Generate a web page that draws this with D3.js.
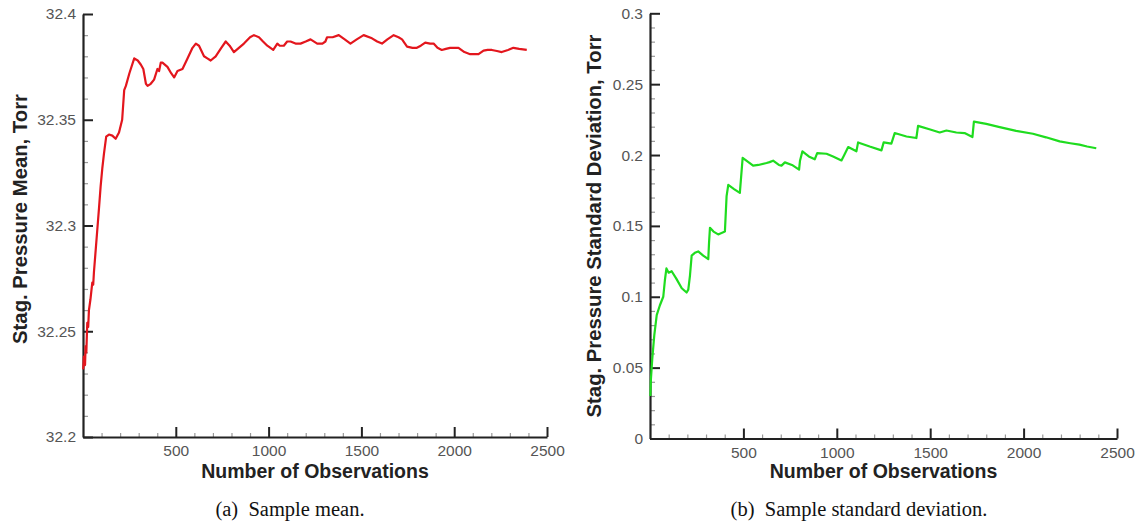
<!DOCTYPE html>
<html>
<head>
<meta charset="utf-8">
<script src="https://cdn.jsdelivr.net/npm/d3@7"></script>
<style>
  html, body { margin: 0; padding: 0; background: #fff; }
  svg { display: block; }
</style>
</head>
<body>
<svg id="chart" width="1139" height="529"></svg>
<script>
// ---------------- DATA ----------------
const meanObs = [1,5,11,14,18,23,28,32,40,50,55,59,68,77,86,95,104,113,125,140,158,176,194,211,222,231,250,276,295,312,325,339,348,365,383,401,410,419,428,455,475,491,509,536,563,590,608,625,652,670,688,715,745,769,790,813,840,867,900,921,948,970,993,1025,1047,1060,1082,1100,1118,1145,1172,1200,1226,1262,1290,1306,1315,1345,1378,1410,1441,1475,1512,1557,1585,1611,1640,1674,1700,1719,1746,1775,1799,1820,1844,1870,1889,1910,1933,1955,1978,2000,2023,2055,2086,2110,2131,2158,2180,2203,2230,2256,2290,2319,2350,2391];
const meanValues = [32.232,32.238,32.234,32.243,32.240,32.254,32.252,32.260,32.265,32.273,32.272,32.278,32.288,32.298,32.308,32.3185,32.327,32.334,32.342,32.343,32.3425,32.341,32.344,32.350,32.364,32.366,32.372,32.379,32.378,32.376,32.374,32.367,32.366,32.367,32.369,32.374,32.373,32.377,32.377,32.375,32.372,32.370,32.373,32.374,32.379,32.384,32.386,32.385,32.380,32.379,32.378,32.380,32.384,32.387,32.385,32.382,32.384,32.386,32.389,32.390,32.389,32.387,32.385,32.383,32.386,32.385,32.385,32.387,32.387,32.386,32.386,32.387,32.388,32.386,32.386,32.387,32.389,32.389,32.390,32.388,32.386,32.388,32.390,32.3885,32.387,32.386,32.388,32.390,32.389,32.388,32.3846,32.384,32.384,32.385,32.3865,32.386,32.386,32.384,32.383,32.3835,32.384,32.384,32.384,32.382,32.381,32.381,32.381,32.3827,32.383,32.383,32.3825,32.382,32.383,32.384,32.3835,32.383];

const stdObs = [2,5,12,23,36,53,62,71,80,88,100,116,140,170,196,205,214,223,240,258,285,312,316,321,340,365,401,410,419,450,481,496,552,580,624,640,659,690,704,722,760,798,803,816,850,882,895,945,980,1025,1040,1061,1105,1114,1176,1239,1251,1292,1310,1373,1426,1435,1500,1551,1587,1640,1684,1726,1734,1800,1872,1960,2050,2120,2193,2250,2299,2340,2389];
const stdValues = [0.030,0.042,0.056,0.073,0.087,0.094,0.097,0.100,0.112,0.120,0.117,0.118,0.113,0.106,0.103,0.105,0.115,0.129,0.131,0.132,0.129,0.1265,0.138,0.1487,0.146,0.144,0.146,0.171,0.179,0.176,0.1733,0.198,0.1925,0.193,0.1944,0.195,0.196,0.193,0.1925,0.1948,0.193,0.1897,0.196,0.2026,0.199,0.197,0.2014,0.2009,0.199,0.1962,0.200,0.2056,0.2026,0.2089,0.206,0.2033,0.2089,0.208,0.2155,0.2131,0.212,0.2206,0.218,0.2159,0.2173,0.2159,0.2155,0.2127,0.2236,0.222,0.2197,0.217,0.215,0.2125,0.2096,0.2083,0.2073,0.206,0.2048];

const xTicks = [500, 1000, 1500, 2000, 2500];
const xTickLabels = ["500", "1000", "1500", "2000", "2500"];
const meanTicks = [32.2, 32.25, 32.3, 32.35, 32.4];
const meanTickLabels = ["32.2", "32.25", "32.3", "32.35", "32.4"];
const stdTicks = [0, 0.05, 0.1, 0.15, 0.2, 0.25, 0.3];
const stdTickLabels = ["0", "0.05", "0.1", "0.15", "0.2", "0.25", "0.3"];

const xTitle = "Number of Observations";
const meanTitle = "Stag. Pressure Mean, Torr";
const stdTitle = "Stag. Pressure Standard Deviation, Torr";
const meanCaption = "(a)\u00A0 Sample mean.";
const stdCaption = "(b)\u00A0 Sample standard deviation.";

// ---------------- DRAW ----------------
const svg = d3.select("#chart");

function panel(opt) {
  const g = svg.append("g");
  const x = d3.scaleLinear().domain([0, 2500]).range([opt.left, opt.right]);
  const y = d3.scaleLinear().domain(opt.yDomain).range([opt.bottom, opt.top]);

  // minor ticks
  const xMinor = d3.range(100, 2500, 100).filter(v => v % 500 !== 0);
  g.append("g").attr("transform", `translate(0,${opt.bottom})`)
    .call(d3.axisBottom(x).tickValues(xMinor).tickSizeInner(-4).tickSizeOuter(0).tickFormat(""))
    .call(s => s.select(".domain").remove())
    .call(s => s.selectAll("line").attr("stroke", "#999").attr("stroke-width", 1.2));
  g.append("g").attr("transform", `translate(${opt.left},0)`)
    .call(d3.axisLeft(y).tickValues(opt.yMinor).tickSizeInner(-5).tickSizeOuter(0).tickFormat(""))
    .call(s => s.select(".domain").remove())
    .call(s => s.selectAll("line").attr("stroke", "#999").attr("stroke-width", 1.2));

  // major axes
  const xa = g.append("g").attr("transform", `translate(0,${opt.bottom})`)
    .call(d3.axisBottom(x).tickValues(xTicks).tickSizeInner(-10).tickSizeOuter(0).tickPadding(8)
      .tickFormat((d, i) => xTickLabels[i]));
  const ya = g.append("g").attr("transform", `translate(${opt.left},0)`)
    .call(d3.axisLeft(y).tickValues(opt.yTicks).tickSizeInner(-10).tickSizeOuter(0).tickPadding(7)
      .tickFormat((d, i) => opt.yLabels[i]));
  [xa, ya].forEach(a => {
    a.select(".domain").attr("stroke", "#222").attr("stroke-width", 2.2);
    a.selectAll(".tick line").attr("stroke", "#222").attr("stroke-width", 2);
    a.selectAll(".tick text").attr("fill", "#555")
      .style("font-family", "'Liberation Sans', Arial, sans-serif").style("font-size", "15.5px");
  });

  // line
  const line = d3.line().x(d => x(d[0])).y(d => y(d[1]));
  g.append("path")
    .datum(opt.xs.map((v, i) => [v, opt.ys[i]]))
    .attr("d", line)
    .attr("fill", "none")
    .attr("stroke", opt.color)
    .attr("stroke-width", 2.2)
    .attr("stroke-linejoin", "round");

  // titles
  g.append("text")
    .attr("x", (opt.left + opt.right) / 2 + opt.xTitleShift)
    .attr("y", 478)
    .attr("text-anchor", "middle")
    .attr("fill", "#222")
    .style("font-family", "'Liberation Sans', Arial, sans-serif")
    .style("font-size", "19.5px").style("font-weight", "bold")
    .text(xTitle);
  g.append("text")
    .attr("transform", `translate(${opt.yTitleX},${opt.yTitleY}) rotate(-90)`)
    .attr("text-anchor", "middle")
    .attr("fill", "#222")
    .style("font-family", "'Liberation Sans', Arial, sans-serif")
    .style("font-size", "20.3px").style("font-weight", "bold")
    .text(opt.yTitle);
  g.append("text")
    .attr("x", opt.captionX)
    .attr("y", 516)
    .attr("text-anchor", "middle")
    .attr("fill", "#111")
    .style("font-family", "'Liberation Serif', 'Times New Roman', serif")
    .style("font-size", "20.5px")
    .text(opt.caption);
}

panel({
  left: 83, right: 547, top: 14, bottom: 437,
  yDomain: [32.2, 32.4], yTicks: meanTicks, yLabels: meanTickLabels,
  yMinor: d3.range(1, 20).map(i => 32.2 + i * 0.01).filter((v, i) => (i + 1) % 5 !== 0),
  xs: meanObs, ys: meanValues, color: "#e3161d",
  yTitle: meanTitle, yTitleX: 27, yTitleY: 219, xTitleShift: 0,
  caption: meanCaption, captionX: 290
});

panel({
  left: 650, right: 1117, top: 13.3, bottom: 438.5,
  yDomain: [0, 0.3], yTicks: stdTicks, yLabels: stdTickLabels,
  yMinor: d3.range(1, 30).map(i => i * 0.01).filter((v, i) => (i + 1) % 5 !== 0),
  xs: stdObs, ys: stdValues, color: "#1fdc1f",
  yTitle: stdTitle, yTitleX: 601, yTitleY: 226, xTitleShift: 0,
  caption: stdCaption, captionX: 859
});
</script>
</body>
</html>
